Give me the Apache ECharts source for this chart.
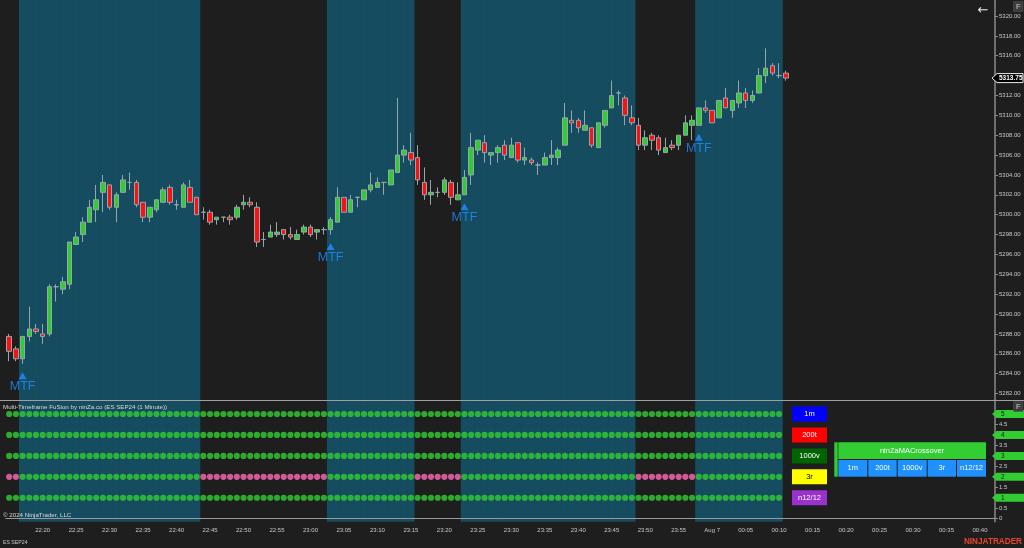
<!DOCTYPE html>
<html><head><meta charset="utf-8">
<script src="https://cdn.jsdelivr.net/npm/echarts@6/dist/echarts.min.js"></script>
<style>html,body{margin:0;padding:0;background:#1e1e1e;overflow:hidden}#c{width:1024px;height:548px}</style>
</head><body><div id="c"></div>
<script>
// ---------------- data ----------------
const startMinute = 22 * 60 + 15;   // first bar 22:15
const barCount = 148;               // axis slots 22:15 .. 00:42
// [open, high, low, close]
const ohlc = [
[5287.75,5288,5285.25,5286.25],[5286.5,5286.75,5285.25,5285.5],[5285.5,5287.75,5285,5287.75],[5287.75,5290.75,5287.25,5288.5],
[5288.5,5289,5288,5288.25],[5288,5289,5287,5287.75],[5288,5293,5287.75,5292.75],[5292.75,5293,5291.25,5292.75],
[5292.5,5293.75,5292,5293.25],[5293,5297.25,5292.5,5297.25],[5297,5298.25,5297,5297.75],[5298,5299.75,5297.25,5299.25],
[5299.25,5301.5,5299.25,5300.75],[5300.5,5303,5299.25,5301.5],[5302.25,5304,5300.25,5303.25],[5303,5303,5300.5,5300.75],
[5300.75,5302.25,5299.25,5302],[5302.25,5304,5302.25,5303.5],[5303.25,5304.25,5302.5,5303.25],[5303.25,5303.5,5300.75,5301],
[5301.25,5301.25,5299.25,5299.75],[5299.75,5300.75,5299.25,5300.75],[5300.5,5301.5,5300.25,5301.5],[5301.25,5302.75,5301.25,5302.5],
[5302.75,5303,5301,5301.25],[5301,5301.5,5300.5,5301],[5300.75,5303.25,5300.75,5303],[5302.75,5303.5,5301.25,5301.25],
[5301.75,5301.75,5300,5300],[5300.25,5300.75,5299.5,5300.25],[5300.25,5300.5,5299,5299.25],[5299.5,5299.75,5299,5299.75],
[5299.75,5299.75,5299.25,5299.75],[5299.75,5300,5299,5299.5],[5299.75,5301,5299.5,5300.75],[5301,5302,5300.5,5301.25],
[5301.25,5301.75,5300.75,5301],[5300.75,5301.25,5296.75,5297.25],[5297.5,5298.25,5296.75,5297.5],[5297.75,5299,5297.75,5298.25],
[5298,5299.25,5297.75,5298.25],[5298.5,5298.5,5297.5,5298],[5298,5298.75,5297.5,5297.75],[5297.5,5298.5,5297.5,5298],
[5298.25,5299,5298,5298.75],[5298.75,5299,5297.75,5298],[5298.25,5298.5,5297.5,5298.5],[5298.5,5298.75,5298,5298.5],
[5298.5,5299.75,5298,5299.5],[5299.25,5302.75,5299.25,5301.75],[5301.75,5301.75,5300.25,5300.25],[5300.25,5302,5300.25,5301.5],
[5301.75,5301.75,5300.75,5301.75],[5301.5,5302.5,5301.5,5302.5],[5302.5,5304.25,5302.25,5303],[5302.75,5303.75,5302.75,5303.25],
[5303.25,5303.25,5302,5303.25],[5303,5304.5,5303,5304.5],[5304.25,5311.75,5304.25,5306],[5306,5307,5305.25,5306.5],
[5306.25,5308.25,5305,5305.5],[5305.75,5307,5303,5303.5],[5303.25,5304.75,5301.5,5302],[5302,5303.5,5301,5302.25],
[5302.25,5302.75,5301.75,5302.25],[5302.25,5303.75,5302,5303.5],[5303.25,5303.5,5301,5301.75],[5301.5,5303.25,5301.5,5302],
[5302,5304.5,5302,5303.75],[5304,5308.25,5303,5306.75],[5306.5,5307.5,5306,5307.5],[5307.25,5308,5305.25,5306.25],
[5306,5306.25,5305,5306.25],[5306.25,5307,5305.25,5306.75],[5307,5307.5,5305.5,5306],[5305.75,5307.75,5305.75,5307],
[5307.25,5307.25,5305.25,5305.5],[5305.5,5306.75,5305,5305.75],[5305.5,5305.75,5305,5305.25],[5305,5305.25,5304,5305],
[5305,5306.25,5305,5305.75],[5305.75,5307.5,5305,5306],[5305.75,5306.75,5305,5306.5],[5307,5311.25,5307,5309.75],
[5309.5,5310.5,5308.25,5309.25],[5309.5,5309.75,5308.25,5308.75],[5308.5,5310.5,5308.5,5309],[5308.75,5308.75,5306.75,5307],
[5306.75,5309.25,5306.75,5309.25],[5309,5310.5,5308.75,5310.5],[5310.75,5313.5,5310.75,5312],[5312.25,5312.5,5311,5312.25],
[5311.75,5312,5309,5310],[5309.75,5311,5309,5309.25],[5309,5309.75,5306.5,5307],[5307,5308.5,5306.5,5307.75],
[5308,5308.25,5306.5,5307.5],[5307.75,5308,5306,5306.5],[5306.25,5307.75,5306.25,5306.75],[5307,5307.5,5306.5,5306.75],
[5307,5308,5306.5,5308],[5308,5310,5308,5309.25],[5309,5310,5307.5,5309.5],[5309,5310.75,5309,5310.75],
[5310.75,5311.5,5310.25,5310.5],[5310.5,5310.5,5309.25,5309.25],[5309.75,5311.5,5309.75,5311.5],[5311.75,5312.75,5310.75,5310.75],
[5310.5,5311.5,5309.75,5311.5],[5311.25,5313.5,5310.75,5312.25],[5312.25,5312.75,5310.75,5311.5],[5311.5,5312.5,5311.25,5312],
[5312.25,5314.75,5312.25,5314],[5314,5316.75,5313.25,5314.75],[5315,5315.25,5314,5314.25],[5314,5315.25,5313.75,5314],
[5314.25,5314.5,5313.5,5313.75]
];
const lastPrice = 5313.75;
const mtfSignalBars = [2, 48, 68, 103];

// indicator rows: [state, run length]  (1 = bullish green, -1 = bearish pink)
const rowLabels = ['1m', '200t', '1000v', '3r', 'n12/12'];
const rowLevels = [5, 4, 3, 2, 1];
const rowBoxColors = ['#0000ff', '#ff0000', '#006400', '#ffff00', '#9932cc'];
const rowTextColors = ['#ffffff', '#ffffff', '#ffffff', '#000000', '#ffffff'];
const runs1m = [[1, 116]];
const runs200t = [[1, 116]];
const runs1000v = [[1, 116]];
const runs3r = [[-1, 2], [1, 27], [-1, 19], [1, 13], [-1, 7], [1, 26], [-1, 9], [1, 13]];
const runsN12 = [[1, 116]];

const priceTicks = [5282,5284,5286,5288,5290,5292,5294,5296,5298,5300,5302,5304,5306,5308,5310,5312,5314,5316,5318,5320];
const indTicks = [0, 0.5, 1, 1.5, 2, 2.5, 3, 3.5, 4, 4.5, 5];
const crossoverCells = ['1m', '200t', '1000v', '3r', 'n12/12'];

// ---------------- build ----------------
const FONT = '"Liberation Sans", Arial, sans-serif';
const BG = '#1e1e1e', TEAL = '#164c5f', GREEN = '#32cd32', PINK = '#ff69b4', MTFBLUE = '#1f8fff';
function expandRuns(runs) { const o = []; runs.forEach(r => { for (let k = 0; k < r[1]; k++) o.push(r[0]); }); return o; }
const categories = [];
for (let i = 0; i < barCount; i++) {
  const m = (startMinute + i) % 1440;
  const h = Math.floor(m / 60), mm = m % 60;
  categories.push(m === 0 ? 'Aug 7' : String(h).padStart(2, '0') + ':' + String(mm).padStart(2, '0'));
}
const rowStates = [runs1m, runs200t, runs1000v, runs3r, runsN12].map(expandRuns);
const state3r = rowStates[3];

const GL = 5.85, GW = 990.86;
const labelEvery5 = (idx) => idx > 0 && idx % 5 === 0;

const chart = echarts.init(document.getElementById('c'));
const series = [];
series.push({
  type: 'bar', xAxisIndex: 2, yAxisIndex: 2, z: 0, silent: true,
  barWidth: 7.3, itemStyle: { color: TEAL },
  data: categories.map((c, i) => state3r[i] === 1 ? 1 : '-')
});
series.push({
  type: 'candlestick', xAxisIndex: 0, yAxisIndex: 0, z: 3, barWidth: 5,
  itemStyle: { color: '#30cc30', color0: '#ff1010', borderColor: '#96a6ad', borderColor0: '#96a6ad', borderColorDoji: '#96a6ad', borderWidth: 1 },
  data: ohlc.map(d => [d[0], d[3], d[2], d[1]])
});
series.push({
  type: 'scatter', xAxisIndex: 0, yAxisIndex: 0, z: 4, symbol: 'triangle', symbolSize: [8, 7], symbolOffset: [0, 12],
  itemStyle: { color: MTFBLUE },
  label: { show: true, formatter: 'MTF', position: 'bottom', distance: 1, color: MTFBLUE, fontSize: 12.5, fontFamily: FONT },
  data: mtfSignalBars.map(i => [i, ohlc[i][2]])
});
rowLevels.forEach((lv, r) => {
  series.push({
    type: 'scatter', xAxisIndex: 1, yAxisIndex: 1, z: 4, symbolSize: 6.2,
    data: rowStates[r].map((s, i) => ({ value: [i, lv], itemStyle: { color: s === 1 ? GREEN : PINK } }))
  });
});

const axisLab = { color: '#c8c8c8', fontSize: 6, fontFamily: FONT };
chart.setOption({
  animation: false,
  backgroundColor: BG,
  grid: [
    { left: GL, width: GW, top: 0, height: 400 },
    { left: GL, width: GW, top: 400, height: 121.7 },
    { left: GL, width: GW, top: 0, height: 521.7 }
  ],
  xAxis: [
    { type: 'category', gridIndex: 0, data: categories, show: false },
    { type: 'category', gridIndex: 1, data: categories, z: 6,
      axisLine: { lineStyle: { color: '#9a9a9a', width: 1 } },
      axisTick: { interval: labelEvery5, alignWithLabel: true, length: 3, lineStyle: { color: '#9a9a9a' } },
      axisLabel: Object.assign({ interval: labelEvery5, margin: 6 }, axisLab) },
    { type: 'category', gridIndex: 2, data: categories, show: false }
  ],
  yAxis: [
    { type: 'value', gridIndex: 0, position: 'right', offset: -1.7, min: 5281.35, max: 5321.61, z: 6,
      splitLine: { show: false },
      axisLine: { show: true, lineStyle: { color: '#8a8a8a', width: 1.5 } },
      axisTick: { show: true, length: 3, customValues: priceTicks, lineStyle: { color: '#8a8a8a' } },
      axisLabel: Object.assign({ customValues: priceTicks, margin: 4, formatter: v => v.toFixed(2) }, axisLab) },
    { type: 'value', gridIndex: 1, position: 'right', offset: -1.7, min: -0.143, max: 5.669, z: 6,
      splitLine: { show: false },
      axisLine: { show: true, lineStyle: { color: '#8a8a8a', width: 1.5 } },
      axisTick: { show: true, length: 3, customValues: indTicks, lineStyle: { color: '#8a8a8a' } },
      axisLabel: Object.assign({ customValues: indTicks, margin: 4, formatter: v => String(v) }, axisLab) },
    { type: 'value', gridIndex: 2, min: 0, max: 1, show: false }
  ],
  series: series
});

// ---------------- overlay graphics (positions through the chart's own scales) ----------------
const g = [];
function txt(x, y, s, size, color, extra) {
  return Object.assign({ type: 'text', z: 100, style: Object.assign({ x: x, y: y, text: s, fontSize: size, fontFamily: FONT, fill: color, verticalAlign: 'middle' }, extra || {}) });
}
// pane separator
g.push({ type: 'line', z: 90, shape: { x1: 0, y1: 400.5, x2: 1024, y2: 400.5 }, style: { stroke: '#a0a0a0', lineWidth: 1 } });
// level tags on the indicator axis
rowLevels.forEach(lv => {
  const y = chart.convertToPixel({ yAxisIndex: 1 }, lv);
  g.push({ type: 'polygon', z: 95, shape: { points: [[992, y], [996.5, y - 4], [1024, y - 4], [1024, y + 4], [996.5, y + 4]] }, style: { fill: GREEN } });
  g.push(txt(1001, y, String(lv), 6.5, '#102010'));
});
// last price tag
{
  const y = chart.convertToPixel({ yAxisIndex: 0 }, lastPrice);
  g.push({ type: 'polygon', z: 95, shape: { points: [[992, y], [997, y - 4.5], [1023, y - 4.5], [1023, y + 4.5], [997, y + 4.5]] }, style: { fill: '#000', stroke: '#e8e8e8', lineWidth: 1 } });
  g.push(txt(999, y, lastPrice.toFixed(2), 6.5, '#ffffff', { fontWeight: 'bold' }));
}
// row legend boxes
rowLevels.forEach((lv, r) => {
  const y = chart.convertToPixel({ yAxisIndex: 1 }, lv);
  g.push({ type: 'rect', z: 95, shape: { x: 792, y: y - 7.5, width: 35, height: 15 }, style: { fill: rowBoxColors[r] } });
  g.push(txt(809.5, y, rowLabels[r], 7.5, rowTextColors[r], { align: 'center' }));
});
// ninZaMACrossover panel
g.push({ type: 'rect', z: 95, shape: { x: 834.3, y: 442.3, width: 3.4, height: 34.4 }, style: { fill: GREEN } });
g.push({ type: 'rect', z: 95, shape: { x: 838.3, y: 442.3, width: 147.7, height: 16.7 }, style: { fill: GREEN } });
g.push(txt(912, 450.7, 'ninZaMACrossover', 7.5, '#ffffff', { align: 'center' }));
const cellX = [838.3, 868.3, 897.7, 927.7, 957];
const cellW = [29, 28.4, 29, 28.3, 29];
crossoverCells.forEach((c, k) => {
  g.push({ type: 'rect', z: 95, shape: { x: cellX[k], y: 460, width: cellW[k], height: 16.7 }, style: { fill: '#1e90ff' } });
  g.push(txt(cellX[k] + cellW[k] / 2, 468.4, c, 7.5, '#ffffff', { align: 'center' }));
});
// texts
g.push(txt(3, 406.8, 'Multi-Timeframe FuSion by ninZa.co (ES SEP24 (1 Minute))', 6.2, '#d8d8d8'));
g.push(txt(3, 515.2, '\u00a9 2024 NinjaTrader, LLC', 6.2, '#d8d8d8'));
g.push(txt(3, 542.5, 'ES SEP24', 5.2, '#c8c8c8'));
g.push(txt(1022, 542, 'NINJATRADER', 8.2, '#e8472b', { align: 'right', fontWeight: 'bold' }));
g.push(txt(983, 11, '\u2190', 13, '#e6e6e6', { align: 'center', fontFamily: '"DejaVu Sans", sans-serif' }));
// F buttons
[1.5, 401.5].forEach(y0 => {
  g.push({ type: 'rect', z: 95, shape: { x: 1013.5, y: y0, width: 9.5, height: 10 }, style: { fill: '#3c3c3c', stroke: '#555', lineWidth: 0.5 } });
  g.push(txt(1018.3, y0 + 5.2, 'F', 7.5, '#cfcfcf', { align: 'center' }));
});
chart.setOption({ graphic: g });
</script>
</body></html>
